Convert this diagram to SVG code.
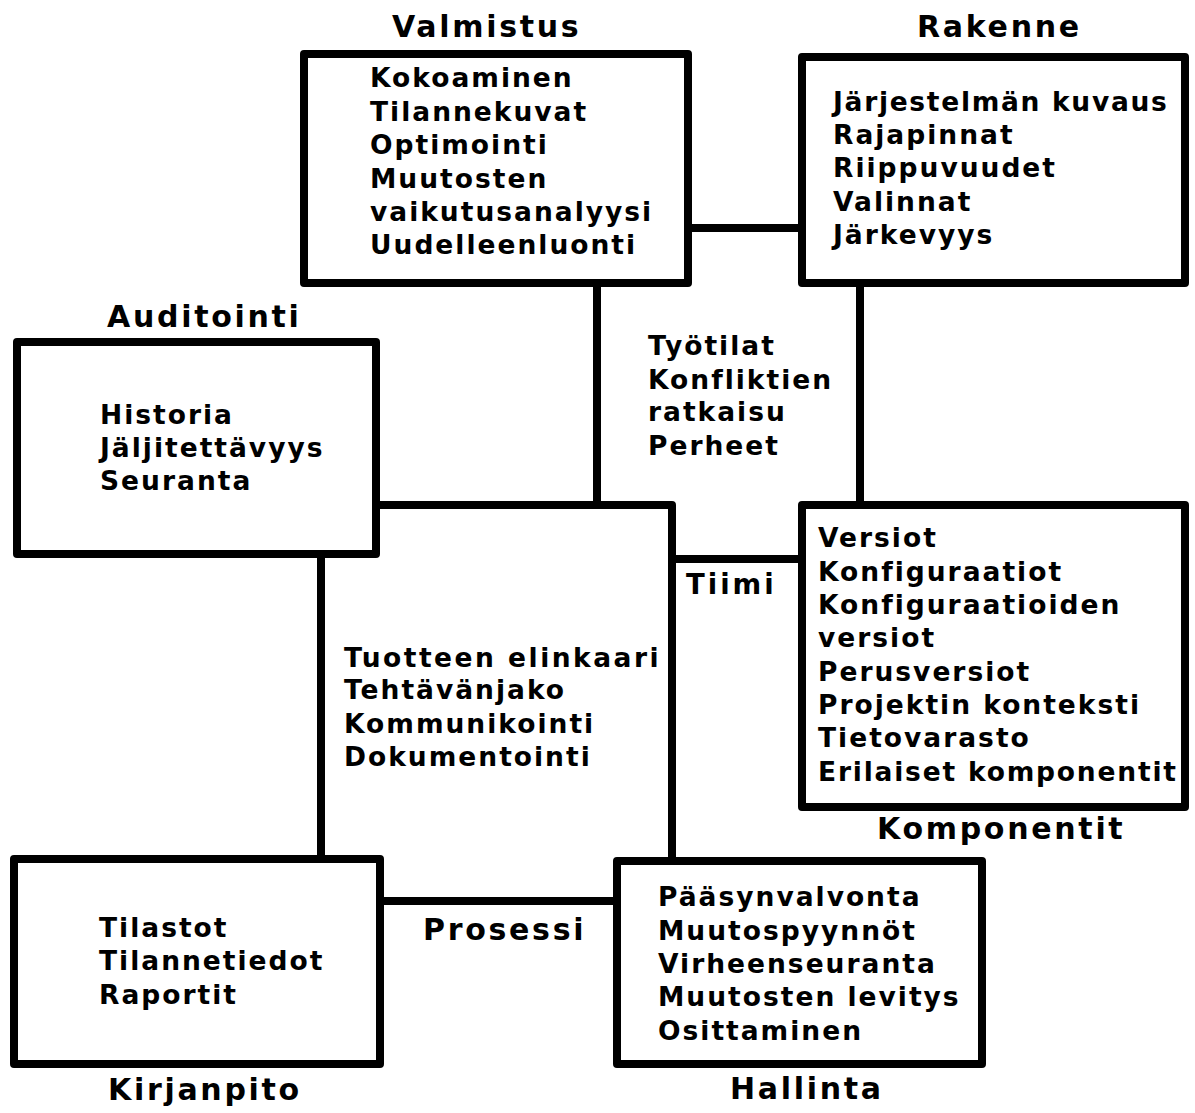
<svg xmlns="http://www.w3.org/2000/svg" width="1195" height="1113" viewBox="0 0 1195 1113">
<style>
  .box { fill: #fff; stroke: #000; stroke-width: 8; stroke-linejoin: round; }
  .conn { fill: none; stroke: #000; stroke-width: 8; stroke-linejoin: round; }
  .t { font-family: "DejaVu Sans", "Liberation Sans", sans-serif; font-weight: bold; font-size: 26.5px; letter-spacing: 2px; fill: #000; }
  .h { font-family: "DejaVu Sans", "Liberation Sans", sans-serif; font-weight: bold; font-size: 30px; letter-spacing: 2.7px; fill: #000; }
</style>
<rect width="1195" height="1113" fill="#fff"/>
<g id="connectors">
  <line class="conn" x1="688" y1="228" x2="802" y2="228"/>
  <polyline class="conn" points="376,505 672,505 672,861"/>
  <line class="conn" x1="597" y1="283" x2="597" y2="505"/>
  <line class="conn" x1="860" y1="283" x2="860" y2="505"/>
  <line class="conn" x1="672" y1="559" x2="802" y2="559"/>
  <line class="conn" x1="321" y1="554" x2="321" y2="859"/>
  <line class="conn" x1="380" y1="901" x2="617" y2="901"/>
</g>
<g id="valmistus">
  <rect class="box" x="304" y="54" width="384" height="229"/>
  <text class="h" x="392" y="37">Valmistus</text>
  <text class="t" x="370" y="87">Kokoaminen</text>
  <text class="t" x="370" y="121">Tilannekuvat</text>
  <text class="t" x="370" y="154">Optimointi</text>
  <text class="t" x="370" y="188">Muutosten</text>
  <text class="t" x="370" y="221">vaikutusanalyysi</text>
  <text class="t" x="370" y="254">Uudelleenluonti</text>
</g>
<g id="rakenne">
  <rect class="box" x="802" y="57" width="383" height="226"/>
  <text class="h" x="917" y="37">Rakenne</text>
  <text class="t" x="833" y="111" style="letter-spacing:1.7px">Järjestelmän kuvaus</text>
  <text class="t" x="833" y="144">Rajapinnat</text>
  <text class="t" x="833" y="177">Riippuvuudet</text>
  <text class="t" x="833" y="211">Valinnat</text>
  <text class="t" x="833" y="244">Järkevyys</text>
</g>
<g id="auditointi">
  <rect class="box" x="17" y="342" width="359" height="212"/>
  <text class="h" x="107" y="327">Auditointi</text>
  <text class="t" x="100" y="424">Historia</text>
  <text class="t" x="100" y="457">Jäljitettävyys</text>
  <text class="t" x="100" y="490">Seuranta</text>
</g>
<g id="tiimi">
  <text class="t" x="648" y="355">Työtilat</text>
  <text class="t" x="648" y="389">Konfliktien</text>
  <text class="t" x="648" y="421">ratkaisu</text>
  <text class="t" x="648" y="455">Perheet</text>
  <text class="t" x="686" y="594" style="font-size:27.5px;letter-spacing:3px">Tiimi</text>
</g>
<g id="komponentit">
  <rect class="box" x="802" y="505" width="383" height="302"/>
  <text class="h" x="877" y="839">Komponentit</text>
  <text class="t" x="818" y="547">Versiot</text>
  <text class="t" x="818" y="581">Konfiguraatiot</text>
  <text class="t" x="818" y="614">Konfiguraatioiden</text>
  <text class="t" x="818" y="647">versiot</text>
  <text class="t" x="818" y="681">Perusversiot</text>
  <text class="t" x="818" y="714">Projektin konteksti</text>
  <text class="t" x="818" y="747">Tietovarasto</text>
  <text class="t" x="818" y="781" style="letter-spacing:1.8px">Erilaiset komponentit</text>
</g>
<g id="tuote">
  <text class="t" x="344" y="667" style="letter-spacing:2.5px">Tuotteen elinkaari</text>
  <text class="t" x="344" y="699">Tehtävänjako</text>
  <text class="t" x="344" y="733">Kommunikointi</text>
  <text class="t" x="344" y="766">Dokumentointi</text>
</g>
<g id="kirjanpito">
  <rect class="box" x="14" y="859" width="366" height="205"/>
  <text class="h" x="108" y="1100">Kirjanpito</text>
  <text class="t" x="99" y="937">Tilastot</text>
  <text class="t" x="99" y="970">Tilannetiedot</text>
  <text class="t" x="99" y="1004">Raportit</text>
</g>
<g id="prosessi">
  <text class="h" x="423" y="940">Prosessi</text>
</g>
<g id="hallinta">
  <rect class="box" x="617" y="861" width="365" height="203"/>
  <text class="h" x="730" y="1099">Hallinta</text>
  <text class="t" x="658" y="906">Pääsynvalvonta</text>
  <text class="t" x="658" y="940">Muutospyynnöt</text>
  <text class="t" x="658" y="973">Virheenseuranta</text>
  <text class="t" x="658" y="1006">Muutosten levitys</text>
  <text class="t" x="658" y="1040">Osittaminen</text>
</g>
</svg>
